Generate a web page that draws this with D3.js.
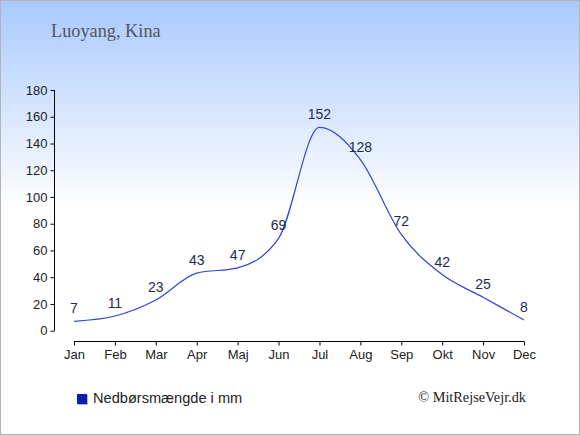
<!DOCTYPE html>
<html>
<head>
<meta charset="utf-8">
<script src="https://cdn.jsdelivr.net/npm/d3@7"></script>
<style>
  body { margin: 0; }
  svg { display: block; }
</style>
</head>
<body>
<div id="chart"></div>
<script>
// chart data
var months = ["Jan", "Feb", "Mar", "Apr", "Maj", "Jun", "Jul", "Aug", "Sep", "Okt", "Nov", "Dec"];
var rainfall = [7, 11, 23, 43, 47, 69, 152, 128, 72, 42, 25, 8];
var yTicks = [0, 20, 40, 60, 80, 100, 120, 140, 160, 180];

const W = 580, H = 435;

var svg = d3.select("#chart")
  .append("svg")
  .attr("width", W)
  .attr("height", H);

// background gradient
var grad = svg.append("defs").append("linearGradient")
  .attr("id", "bg")
  .attr("x1", 0).attr("y1", 0).attr("x2", 0).attr("y2", 1);
grad.append("stop").attr("offset", "0%").attr("stop-color", "#a9c9ff");
grad.append("stop").attr("offset", "48%").attr("stop-color", "#ffffff");
grad.append("stop").attr("offset", "100%").attr("stop-color", "#ffffff");

svg.append("rect")
  .attr("x", 0.5).attr("y", 0.5)
  .attr("width", W - 1).attr("height", H - 1)
  .attr("fill", "url(#bg)")
  .attr("stroke", "#b4b4b4")
  .attr("stroke-width", 1);

// title
svg.append("text")
  .attr("x", 51)
  .attr("y", 37)
  .attr("font-family", "'Liberation Serif', serif")
  .attr("font-size", 18.3)
  .attr("fill", "#555")
  .text("Luoyang, Kina");

// scales
const xScale = d3.scalePoint().domain(months).range([74, 524]);
const yScale = d3.scaleLinear().domain([0, 180]).range([330.7, 90]);

// y axis
var yAxis = svg.append("g")
  .attr("transform", "translate(54.5,0)")
  .call(d3.axisLeft(yScale).tickValues(yTicks).tickSize(4).tickPadding(3));
yAxis.select(".domain").attr("stroke", "#000").attr("d", "M0," + yScale(180) + "V" + yScale(0));
yAxis.selectAll("text")
  .attr("font-family", "'Liberation Sans', Arial, sans-serif")
  .attr("font-size", 13)
  .attr("fill", "#222");

// x axis (sits below the plot)
var xAxis = svg.append("g")
  .attr("transform", "translate(0,341.5)")
  .call(d3.axisBottom(xScale).tickSize(4).tickPadding(4));
xAxis.select(".domain").attr("d", "M74,0H524").attr("stroke", "#000");
xAxis.selectAll("text")
  .attr("font-family", "'Liberation Sans', Arial, sans-serif")
  .attr("font-size", 13)
  .attr("fill", "#222");

// line
var line = d3.line()
  .x(function(d, i) { return xScale(months[i]); })
  .y(function(d) { return yScale(d); })
  .curve(d3.curveMonotoneX);

svg.append("path")
  .datum(rainfall)
  .attr("d", line)
  .attr("fill", "none")
  .attr("stroke", "#3345cc")
  .attr("stroke-width", 1.2);

// value labels
svg.selectAll(".val")
  .data(rainfall)
  .enter().append("text")
  .attr("class", "val")
  .attr("x", function(d, i) { return xScale(months[i]); })
  .attr("y", function(d) { return yScale(d) - 8; })
  .attr("text-anchor", "middle")
  .attr("font-family", "'Liberation Sans', Arial, sans-serif")
  .attr("font-size", 14)
  .attr("fill", "#1d2b4f")
  .text(function(d) { return d; });

// legend
svg.append("rect")
  .attr("x", 78).attr("y", 395)
  .attr("width", 10).attr("height", 10)
  .attr("fill", "#aab4e8");
svg.append("rect")
  .attr("x", 77).attr("y", 394)
  .attr("width", 10).attr("height", 10)
  .attr("fill", "#0a22aa");
svg.append("text")
  .attr("x", 93)
  .attr("y", 403)
  .attr("font-family", "'Liberation Sans', Arial, sans-serif")
  .attr("font-size", 14.6)
  .attr("fill", "#222")
  .text("Nedbørsmængde i mm");

// copyright
svg.append("text")
  .attr("x", 526)
  .attr("y", 402)
  .attr("text-anchor", "end")
  .attr("font-family", "'Liberation Serif', serif")
  .attr("font-size", 14.3)
  .attr("fill", "#222")
  .text("© MitRejseVejr.dk");
</script>
</body>
</html>
